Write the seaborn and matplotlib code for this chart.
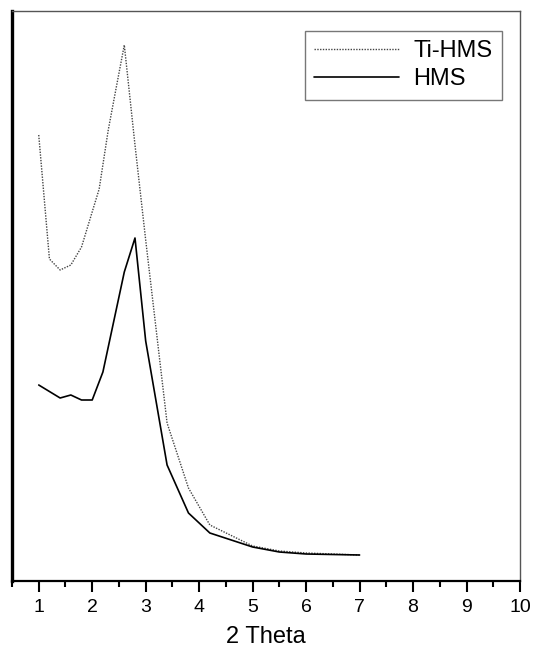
import matplotlib
matplotlib.use("Agg")
import matplotlib.pyplot as plt
import seaborn as sns
import pandas as pd
from matplotlib.ticker import MultipleLocator

sns.set_style("white")
plt.rcParams['font.family'] = ['Liberation Sans', 'DejaVu Sans']
plt.rcParams['text.color'] = 'black'
plt.rcParams['axes.labelcolor'] = 'black'
plt.rcParams['xtick.color'] = 'black'

ti_x = [1.0, 1.2, 1.4, 1.6, 1.8, 2.13, 2.3, 2.43, 2.6, 2.8, 3.0, 3.4, 3.8, 4.2, 5.0, 5.5, 6.0, 6.5, 7.0]
ti_y = [446, 322, 311, 316, 334, 392, 451, 488, 536, 436, 341, 158, 93, 56, 35, 30, 28, 27, 26]

hms_x = [1.0, 1.4, 1.6, 1.8, 2.0, 2.2, 2.4, 2.6, 2.8, 3.0, 3.4, 3.8, 4.2, 5.0, 5.5, 6.0, 7.0]
hms_y = [196, 183, 186, 181, 181, 209, 259, 309, 343, 240, 116, 68, 48, 34, 29, 27, 26]

xticks = [1, 2, 3, 4, 5, 6, 7, 8, 9, 10]

fig = plt.figure(figsize=(5.33, 6.56), dpi=100)
ax = fig.add_axes([12/533, 75/656, 508/533, 570/656])

df_ti = pd.DataFrame({"x": ti_x, "y": ti_y})
df_hms = pd.DataFrame({"x": hms_x, "y": hms_y})
sns.lineplot(data=df_ti, x="x", y="y", ax=ax, color="#444444", linestyle=(0, (1, 1)),
             linewidth=1.0, label="Ti-HMS", sort=False)
sns.lineplot(data=df_hms, x="x", y="y", ax=ax, color="black", linewidth=1.2,
             label="HMS", sort=False)

ax.set_xlim(0.5, 10)
ax.set_ylim(0, 570)
ax.set_xticks(xticks)
ax.set_xticklabels([str(t) for t in xticks])
ax.xaxis.set_minor_locator(MultipleLocator(0.5))
ax.set_yticks([])
ax.set_ylabel("")
ax.set_xlabel("2 Theta", fontsize=17, labelpad=7, color="black")
ax.tick_params(axis="x", which="major", direction="out", length=8, width=1.5,
               labelsize=14, pad=5, bottom=True, color="black", labelcolor="black")
ax.tick_params(axis="x", which="minor", direction="out", length=4, width=1.5,
               bottom=True, color="black")

ax.spines["left"].set_linewidth(2.4)
ax.spines["left"].set_color("black")
ax.spines["bottom"].set_linewidth(1.6)
ax.spines["bottom"].set_color("black")
for s in ("top", "right"):
    ax.spines[s].set_linewidth(1.0)
    ax.spines[s].set_color("#555555")

leg = ax.legend(loc="upper right", fontsize=17, frameon=True, fancybox=False,
                handlelength=3.6, handletextpad=0.6, borderpad=0.4, labelspacing=0.25,
                borderaxespad=0)
leg.set_bbox_to_anchor(((502 - 12) / 508, 1 - 20 / 570), transform=ax.transAxes)
leg.get_frame().set_edgecolor("#555555")
leg.get_frame().set_linewidth(1.0)
for t in leg.get_texts():
    t.set_color("black")

fig.savefig("out.png", dpi=100)
